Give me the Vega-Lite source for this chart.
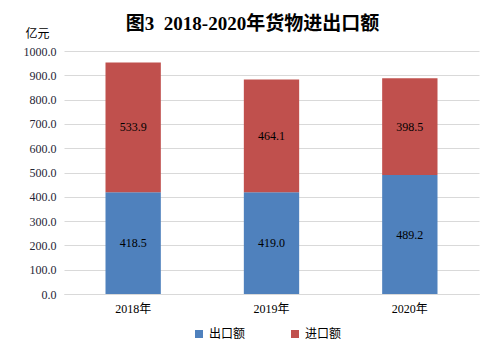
{
  "$schema": "https://vega.github.io/schema/vega-lite/v6.json",
  "width": 415,
  "height": 243,
  "autosize": {"type": "none"},
  "padding": {"left": 64, "top": 51, "right": 25, "bottom": 62},
  "background": "white",
  "title": {
    "text": "图3\u00a0\u00a02018-2020年货物进出口额",
    "font": "Liberation Serif, Noto Sans CJK SC",
    "fontSize": 19,
    "fontWeight": "bold",
    "color": "#000000",
    "anchor": "middle",
    "frame": "group",
    "dx": -19,
    "dy": 11
  },
  "data": {
    "values": [
      {"year": "2018年", "type": "出口额", "value": 418.5},
      {"year": "2018年", "type": "进口额", "value": 533.9},
      {"year": "2019年", "type": "出口额", "value": 419.0},
      {"year": "2019年", "type": "进口额", "value": 464.1},
      {"year": "2020年", "type": "出口额", "value": 489.2},
      {"year": "2020年", "type": "进口额", "value": 398.5}
    ]
  },
  "transform": [
    {"stack": "value", "groupby": ["year"], "sort": [{"field": "type", "order": "ascending"}], "as": ["s0", "s1"]}
  ],
  "config": {
    "view": {"stroke": null}
  },
  "encoding": {
    "x": {
      "field": "year", "type": "nominal",
      "scale": {"paddingInner": 0.6, "paddingOuter": 0.3},
      "axis": {"title": null, "labelAngle": 0, "ticks": false, "domainColor": "#d9d9d9", "labelPadding": 9,
               "labelColor": "#000000", "labelFont": "Liberation Serif, Noto Sans CJK SC", "labelFontSize": 12}
    },
    "y": {
      "field": "pos", "type": "quantitative",
      "scale": {"domain": [0, 1000], "nice": false},
      "axis": {
        "title": "亿元", "titleAngle": 0, "titleX": -27, "titleY": -18,
        "titleAlign": "center", "titleBaseline": "middle",
        "titleFont": "Noto Sans CJK SC", "titleFontSize": 12, "titleFontWeight": "normal", "titleColor": "#000000",
        "values": [0, 100, 200, 300, 400, 500, 600, 700, 800, 900, 1000],
        "format": ".1f", "domain": false, "ticks": false, "labelPadding": 8,
        "labelOverlap": false, "labelBound": false, "labelFlush": false,
        "labelFont": "Liberation Serif", "labelFontSize": 12, "labelColor": "#262636",
        "gridColor": "#d9d9d9"
      }
    }
  },
  "layer": [
    {
      "transform": [
        {"fold": ["s0"], "as": ["edge", "pos"]}
      ],
      "mark": {"type": "bar"},
      "encoding": {
        "y2": {"field": "s1"},
        "color": {
          "field": "type", "type": "nominal",
          "scale": {"domain": ["出口额", "进口额"], "range": ["#4F81BD", "#C0504D"]},
          "legend": {
            "title": null, "orient": "none", "direction": "horizontal",
            "legendX": 129, "legendY": 277,
            "symbolType": "square", "symbolSize": 64, "symbolStrokeWidth": 0,
            "labelFont": "Noto Sans CJK SC", "labelFontSize": 12, "labelColor": "#000000",
            "columnPadding": 43, "labelOffset": 4
          }
        }
      }
    },
    {
      "transform": [
        {"fold": ["s0", "s1"], "as": ["edge", "p"]},
        {"aggregate": [{"op": "mean", "field": "p", "as": "pos"}, {"op": "max", "field": "value", "as": "label"}], "groupby": ["year", "type"]}
      ],
      "mark": {"type": "text", "font": "Liberation Serif", "fontSize": 12, "color": "#000000"},
      "encoding": {
        "text": {"field": "label", "type": "quantitative", "format": ".1f"}
      }
    }
  ]
}
